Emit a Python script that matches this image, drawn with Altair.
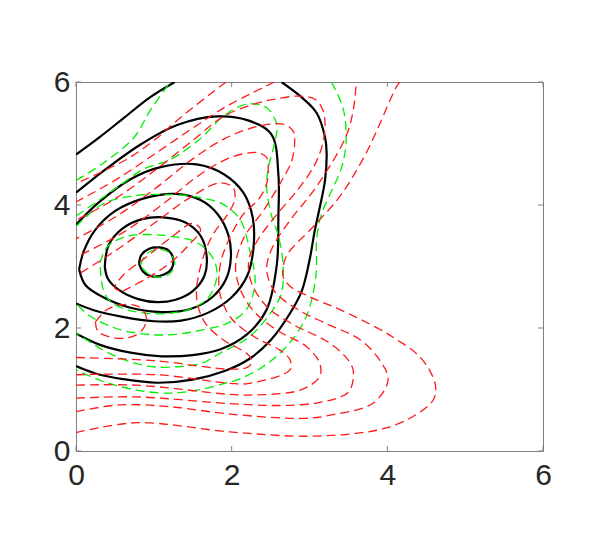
import altair as alt
import pandas as pd

TICKS = [0, 2, 4, 6]

# ---------------- black solid contours ----------------
BLACK_F = [(0.81, 3.05), (0.84, 3.19), (0.94, 3.29), (1.07, 3.31), (1.19, 3.26), (1.25, 3.12),
           (1.23, 2.97), (1.13, 2.87), (0.98, 2.84), (0.86, 2.92), (0.81, 3.05)]
BLACK_E = [(0.37, 3.0), (0.42, 3.35), (0.6, 3.62), (0.85, 3.77), (1.12, 3.80), (1.4, 3.72),
           (1.6, 3.5), (1.68, 3.15), (1.65, 2.85), (1.5, 2.6), (1.28, 2.46), (1.05, 2.42),
           (0.8, 2.47), (0.55, 2.62), (0.41, 2.8), (0.37, 3.0)]
BLACK_D = [(0.04, 2.95), (0.1, 3.25), (0.25, 3.6), (0.5, 3.9), (0.85, 4.1), (1.29, 4.18),
           (1.6, 4.08), (1.82, 3.85), (1.96, 3.5), (1.99, 3.15), (1.93, 2.8), (1.75, 2.5),
           (1.45, 2.3), (1.1, 2.26), (0.7, 2.33), (0.35, 2.5), (0.12, 2.7), (0.04, 2.95)]
BLACK_C = [(0.0, 3.68), (0.3, 4.05), (0.7, 4.42), (1.1, 4.62), (1.55, 4.66), (1.9, 4.5),
           (2.15, 4.2), (2.27, 3.8), (2.28, 3.3), (2.2, 2.85), (2.0, 2.5), (1.7, 2.25),
           (1.35, 2.12), (1.0, 2.11), (0.6, 2.18), (0.25, 2.28), (0.0, 2.40)]
BLACK_B = [(0.0, 4.2), (0.4, 4.6), (0.85, 5.0), (1.3, 5.3), (1.81, 5.44), (2.2, 5.38),
           (2.51, 5.15), (2.6, 4.5), (2.6, 3.8), (2.58, 3.03), (2.45, 2.30), (2.2, 1.9),
           (1.85, 1.65), (1.5, 1.56), (1.1, 1.54), (0.7, 1.6), (0.3, 1.73), (0.0, 1.91)]
BLACK_A1 = [(0.0, 4.82), (0.3, 5.1), (0.6, 5.4), (0.95, 5.75), (1.27, 6.0)]
BLACK_A2 = [(2.64, 6.0), (2.9, 5.75), (3.09, 5.5), (3.2, 5.1), (3.22, 4.85), (3.2, 4.41),
            (3.13, 3.95), (3.07, 3.6), (3.0, 3.1), (2.9, 2.6), (2.75, 2.24), (2.5, 1.8),
            (2.23, 1.5), (1.91, 1.3), (1.5, 1.16), (1.04, 1.11), (0.6, 1.17), (0.25, 1.26),
            (0.0, 1.38)]

# ---------------- green dashed contours ----------------
GREEN_1 = [(0.83, 3.02), (0.9, 3.2), (1.05, 3.28), (1.2, 3.22), (1.27, 3.05), (1.22, 2.9),
           (1.12, 2.83), (0.95, 2.86), (0.83, 3.02)]
GREEN_2 = [(0.31, 3.06), (0.4, 3.32), (0.65, 3.49), (0.95, 3.52), (1.21, 3.49), (1.5, 3.42),
           (1.68, 3.27), (1.79, 3.05), (1.81, 2.84), (1.76, 2.62), (1.68, 2.46), (1.45, 2.3),
           (1.21, 2.24), (0.9, 2.24), (0.65, 2.30), (0.45, 2.42), (0.35, 2.62), (0.31, 3.06)]
GREEN_3 = [(0.0, 3.65), (0.35, 4.02), (0.75, 4.15), (1.21, 4.17), (1.6, 4.12), (1.89, 4.01),
           (2.11, 3.76), (2.23, 3.27), (2.30, 2.73), (2.19, 2.30), (1.95, 2.08), (1.63, 1.97),
           (1.3, 1.9), (0.99, 1.89), (0.6, 1.96), (0.35, 2.08), (0.15, 2.22), (0.0, 2.40)]
GREEN_4 = [(0.0, 3.82), (0.31, 4.09), (0.6, 4.35), (0.86, 4.58), (1.21, 4.74), (1.59, 5.07),
           (1.89, 5.44), (2.19, 5.64), (2.45, 5.58), (2.58, 5.3), (2.55, 5.0), (2.47, 4.6),
           (2.45, 4.28), (2.51, 3.84), (2.60, 3.5), (2.66, 3.03), (2.64, 2.57), (2.53, 2.30),
           (2.23, 1.86), (1.85, 1.59), (1.6, 1.42), (1.3, 1.37), (0.99, 1.37), (0.65, 1.47),
           (0.35, 1.64), (0.0, 1.92)]
GREEN_5A = [(0.0, 4.40), (0.35, 4.68), (0.74, 5.09), (0.95, 5.53), (1.21, 6.0)]
GREEN_5B = [(3.28, 6.0), (3.43, 5.58), (3.47, 5.04), (3.41, 4.60), (3.28, 4.22), (3.15, 3.84),
            (3.09, 3.41), (3.09, 3.03), (3.07, 2.73), (2.96, 2.19), (2.72, 1.72), (2.40, 1.37),
            (2.08, 1.16), (1.91, 1.10), (1.6, 1.0), (1.21, 0.94), (0.78, 0.99), (0.35, 1.13),
            (0.0, 1.32)]

# ---------------- red dashed contours ----------------
RED_1 = [(0.0, 0.30), (0.78, 0.46), (1.98, 0.31), (2.94, 0.24), (3.62, 0.29), (3.97, 0.37),
         (4.33, 0.56), (4.59, 0.83), (4.62, 1.05), (4.54, 1.32), (4.37, 1.59), (4.12, 1.81),
         (3.90, 1.98), (3.39, 2.30), (3.0, 2.51), (2.75, 2.68), (2.66, 2.84), (2.70, 3.16),
         (3.05, 3.65), (3.39, 4.14), (3.73, 4.85), (4.12, 5.93), (4.16, 6.0)]
RED_1B = [(1.93, 6.0), (1.72, 5.80), (1.34, 5.42), (1.04, 5.09), (0.7, 4.78), (0.35, 4.55),
          (0.0, 4.35)]
RED_2 = [(0.0, 0.64), (0.56, 0.75), (1.21, 0.72), (1.98, 0.60), (2.94, 0.53), (3.30, 0.59),
         (3.82, 0.78), (4.01, 1.16), (3.90, 1.48), (3.65, 1.81), (3.2, 2.08), (2.85, 2.3),
         (2.55, 2.6), (2.45, 2.95), (2.52, 3.3), (2.75, 3.75), (3.09, 4.30), (3.47, 5.12),
         (3.57, 5.6), (3.60, 6.0)]
RED_2B = [(2.55, 6.0), (2.23, 5.80), (1.9, 5.58), (1.5, 5.25), (1.0, 4.82), (0.5, 4.4),
          (0.0, 4.05)]
RED_3 = [(0.0, 0.86), (0.78, 0.88), (1.98, 0.77), (2.6, 0.74), (3.09, 0.78), (3.4, 0.88),
         (3.52, 0.99), (3.56, 1.32), (3.45, 1.55), (3.2, 1.8), (2.8, 2.05), (2.45, 2.35),
         (2.25, 2.75), (2.22, 3.1), (2.32, 3.4), (2.55, 3.8), (2.85, 4.25), (3.07, 4.66),
         (3.17, 5.0), (3.20, 5.31), (3.17, 5.55), (3.07, 5.72), (2.85, 5.77), (2.6, 5.73),
         (2.34, 5.66), (1.91, 5.45), (1.5, 5.05), (1.0, 4.55), (0.5, 4.1), (0.0, 3.75)]
RED_4 = [(0.0, 1.07), (0.78, 1.07), (1.98, 0.92), (2.23, 0.91), (2.88, 0.99), (3.13, 1.21),
         (3.13, 1.43), (2.96, 1.70), (2.6, 1.95), (2.3, 2.25), (2.12, 2.6), (2.05, 3.0),
         (2.15, 3.45), (2.43, 3.95), (2.64, 4.39), (2.77, 4.71), (2.81, 5.04), (2.79, 5.20),
         (2.68, 5.31), (2.34, 5.28), (1.91, 5.08), (1.5, 4.75), (1.0, 4.25), (0.5, 3.8),
         (0.0, 3.45)]
RED_5 = [(0.0, 1.24), (1.04, 1.24), (1.98, 1.10), (2.23, 1.10), (2.75, 1.32), (2.75, 1.48),
         (2.62, 1.64), (2.3, 1.85), (2.0, 2.15), (1.85, 2.55), (1.85, 3.0), (1.95, 3.4),
         (2.15, 3.85), (2.35, 4.1), (2.45, 4.35), (2.47, 4.6), (2.45, 4.77), (2.34, 4.85),
         (2.0, 4.78), (1.6, 4.5), (1.1, 4.0), (0.6, 3.55), (0.0, 3.15)]
RED_6 = [(0.0, 1.52), (1.0, 1.47), (1.98, 1.33), (2.2, 1.36), (2.26, 1.45), (2.2, 1.58),
         (1.9, 1.8), (1.65, 2.1), (1.55, 2.5), (1.6, 3.0), (1.75, 3.5), (1.95, 3.85),
         (2.04, 4.09), (2.02, 4.28), (1.85, 4.36), (1.5, 4.15), (1.0, 3.7), (0.5, 3.25),
         (0.0, 2.85)]
RED_7 = [(0.25, 2.1), (0.4, 2.3), (0.6, 2.38), (0.8, 2.35), (0.9, 2.2), (0.86, 1.98),
         (0.7, 1.85), (0.45, 1.85), (0.28, 1.95), (0.25, 2.1)]
RED_8 = [(0.6, 2.6), (0.9, 2.8), (1.2, 3.05), (1.45, 3.35), (1.6, 3.6), (1.5, 3.7),
         (1.2, 3.45), (0.9, 3.15), (0.6, 2.85), (0.5, 2.65), (0.6, 2.6)]

BLACK = {"F": BLACK_F, "E": BLACK_E, "D": BLACK_D, "C": BLACK_C, "B": BLACK_B,
         "A1": BLACK_A1, "A2": BLACK_A2}
GREEN = {"g1": GREEN_1, "g2": GREEN_2, "g3": GREEN_3, "g4": GREEN_4,
         "g5a": GREEN_5A, "g5b": GREEN_5B}
RED = {"r1": RED_1, "r1b": RED_1B, "r2": RED_2, "r2b": RED_2B, "r3": RED_3, "r4": RED_4,
       "r5": RED_5, "r6": RED_6, "r7": RED_7, "r8": RED_8}


def to_frame(curves):
    rows = []
    for name, pts in curves.items():
        for i, (x, y) in enumerate(pts):
            rows.append({"curve": name, "i": i, "x": x, "y": y})
    return pd.DataFrame(rows)


W, H = 467, 369
xs = alt.Scale(domain=[0, 6], nice=False, zero=False)
ys = alt.Scale(domain=[0, 6], nice=False, zero=False)
FONT = "Liberation Sans"
ax_x = alt.Axis(values=TICKS, ticks=False, domain=False, grid=False, labelFontSize=30,
                labelFont=FONT, labelColor="#262626", labelPadding=9, labelFlush=False,
                title=None)
ax_y = alt.Axis(values=TICKS, ticks=False, domain=False, grid=False, labelFontSize=30,
                labelFont=FONT, labelColor="#262626", labelPadding=6, labelFlush=False,
                title=None)


def lines(df, color, width, dash=None):
    kw = dict(color=color, strokeWidth=width, interpolate="catmull-rom", clip=True)
    if dash is not None:
        kw["strokeDash"] = dash
    return alt.Chart(df).mark_line(**kw).encode(
        x=alt.X("x:Q", scale=xs, axis=ax_x),
        y=alt.Y("y:Q", scale=ys, axis=ax_y),
        detail="curve:N",
        order="i:Q",
    )


black = lines(to_frame(BLACK), "#000000", 2.2)
green = lines(to_frame(GREEN), "#00ee00", 1.3, [9, 5])
red = lines(to_frame(RED), "#ff1a1a", 1.3, [9, 5])

tick_df = pd.DataFrame({"x": TICKS, "y": TICKS})
tcol = "#808080"
t_bottom = alt.Chart(tick_df).mark_rule(color=tcol, strokeWidth=1).encode(
    x=alt.X("x:Q", scale=xs, axis=ax_x), y=alt.value(H), y2=alt.value(H - 5))
t_top = alt.Chart(tick_df).mark_rule(color=tcol, strokeWidth=1).encode(
    x=alt.X("x:Q", scale=xs, axis=ax_x), y=alt.value(0), y2=alt.value(5))
t_left = alt.Chart(tick_df).mark_rule(color=tcol, strokeWidth=1).encode(
    y=alt.Y("y:Q", scale=ys, axis=ax_y), x=alt.value(0), x2=alt.value(5))
t_right = alt.Chart(tick_df).mark_rule(color=tcol, strokeWidth=1).encode(
    y=alt.Y("y:Q", scale=ys, axis=ax_y), x=alt.value(W), x2=alt.value(W - 5))

chart = alt.layer(black, green, red, t_bottom, t_top, t_left, t_right).properties(
    width=W, height=H,
    padding={"left": 68, "top": 74, "right": 47, "bottom": 90},
    autosize=alt.AutoSizeParams(type="none"),
    background="white",
).configure_view(stroke=tcol, strokeWidth=1)

chart.save("out.html", embed_options={"renderer": "svg", "actions": False})
